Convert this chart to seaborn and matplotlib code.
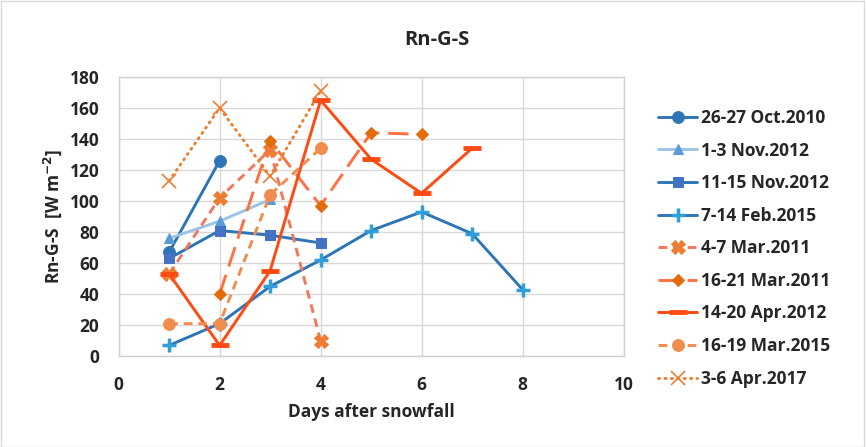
import numpy as np
import pandas as pd
import seaborn as sns
import matplotlib.pyplot as plt

# days after snowfall and Rn-G-S values
oct2010_x = [1, 2]
oct2010_y = [67, 126]
nov2012a_x = [1, 2, 3]
nov2012a_y = [76, 87, 101]
nov2012b_x = [1, 2, 3, 4]
nov2012b_y = [63, 81, 78, 73]
feb2015_x = [1, 2, 3, 4, 5, 6, 7, 8]
feb2015_y = [7, 21, 45, 62, 81, 93, 79, 43]
mar2011a_x = [1, 2, 3, 4]
mar2011a_y = [53, 102, 133, 10]
mar2011b_x = [2, 3, 4, 5, 6]
mar2011b_y = [40, 139, 97, 144, 143]
apr2012_x = [1, 2, 3, 4, 5, 6, 7]
apr2012_y = [53, 7, 55, 165, 127, 105, 134]
mar2015_x = [1, 2, 3, 4]
mar2015_y = [21, 21, 104, 134]
apr2017_x = [1, 2, 3, 4]
apr2017_y = [113, 160, 116, 171]

labels = ["26-27 Oct.2010", "1-3 Nov.2012", "11-15 Nov.2012", "7-14 Feb.2015",
          "4-7 Mar.2011", "16-21 Mar.2011", "14-20 Apr.2012", "16-19 Mar.2015",
          "3-6 Apr.2017"]

series = [
    (oct2010_x, oct2010_y, dict(color="#2E75B6", marker="o", markersize=8.5,
                                mfc="#2E75B6", mec="#2E75B6", linestyle="-")),
    (nov2012a_x, nov2012a_y, dict(color="#9DC3E6", marker="^", markersize=7.5,
                                  mfc="#5B9BD5", mec="#5B9BD5", linestyle="-")),
    (nov2012b_x, nov2012b_y, dict(color="#2E75B6", marker="s", markersize=7.5,
                                  mfc="#4472C4", mec="#4472C4", linestyle="-")),
    (feb2015_x, feb2015_y, dict(color="#2E75B6", marker="+", markersize=10, mew=2.5,
                                mec="#2E9FD8", linestyle="-")),
    (mar2011a_x, mar2011a_y, dict(color="#F4765E", marker="X", markersize=9.5,
                                  mfc="#ED7D31", mec="#ED7D31", linestyle=(0, (3, 2)))),
    (mar2011b_x, mar2011b_y, dict(color="#FF7043", marker="D", markersize=6.5,
                                  mfc="#E36C0A", mec="#E36C0A", linestyle=(0, (7, 3)))),
    (apr2012_x, apr2012_y, dict(color="#FF4A12", marker="_", markersize=13, mew=3.5,
                                mec="#FF4A12", linestyle="-")),
    (mar2015_x, mar2015_y, dict(color="#F08C4E", marker="o", markersize=8.5,
                                mfc="#F08C4E", mec="#F08C4E", linestyle=(0, (3, 2)))),
    (apr2017_x, apr2017_y, dict(color="#ED7D31", marker="x", markersize=10, mew=1.2,
                                mec="#ED7D31", linestyle=(0, (0.4, 1.8)),
                                dash_capstyle="round")),
]

sns.set_style("whitegrid")
plt.rcParams['font.family'] = ['Open Sans', 'DejaVu Sans']

fig = plt.figure(figsize=(8.66, 4.47), dpi=100)
ax = fig.add_axes([0.137, 0.203, 0.583, 0.625])

for (x, y, style), lab in zip(series, labels):
    df = pd.DataFrame({"x": x, "y": y})
    sns.lineplot(data=df, x="x", y="y", ax=ax, label=lab, linewidth=2.1, **style)

ax.set_xlim(0, 10)
ax.set_ylim(0, 180)
ax.set_xticks(np.arange(0, 11, 2))
ax.set_yticks(np.arange(0, 181, 20))
ax.tick_params(axis="both", labelsize=12.5, length=0, pad=14)
for lbl in ax.get_xticklabels() + ax.get_yticklabels():
    lbl.set_fontweight("bold")
ax.grid(True, color="#D9D9D9", linewidth=1)
for sp in ax.spines.values():
    sp.set_color("#D0D0D0")
    sp.set_linewidth(1)

ax.set_xlabel("Days after snowfall", fontsize=12.5, fontweight="bold", labelpad=7)
ax.set_ylabel("Rn-G-S  [W m$^{\\mathbf{-2}}$]", fontsize=12.5, fontweight="bold", labelpad=4)
fig.text(0.505, 0.91, "Rn-G-S", ha="center", va="center", fontsize=14.5, fontweight="bold")

leg = ax.legend(loc="upper left", bbox_to_anchor=(1.055, 0.91), frameon=False,
                fontsize=12.5, handlelength=2.25, handletextpad=0.2,
                labelspacing=0.84, borderaxespad=0)
for t in leg.get_texts():
    t.set_fontweight("bold")

fig.patches.append(plt.Rectangle((0.001, 0.001), 0.997, 0.997, transform=fig.transFigure,
                                 fill=False, edgecolor="#D9D9D9", linewidth=1))

fig.savefig("out.png", dpi=100)
